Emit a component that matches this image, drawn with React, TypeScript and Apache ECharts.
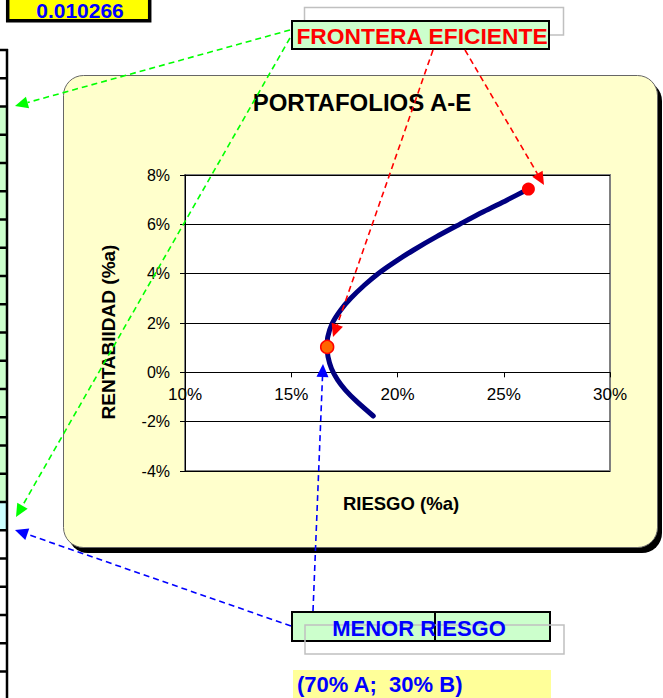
import React, { useEffect, useRef } from "react";
import * as echarts from "echarts";

// ---- data ----
const riskPct = [18.86, 18.09, 17.55, 17.18, 16.89, 16.73, 16.69, 16.72, 16.93, 17.33, 17.8, 18.45, 19.1, 19.88, 20.76, 21.84, 22.94, 24.04, 25.14, 26.16];
const returnPct = [-1.77, -1.19, -0.72, -0.31, 0.16, 0.63, 1.03, 1.44, 1.99, 2.53, 3.0, 3.54, 4.01, 4.48, 4.96, 5.5, 6.01, 6.51, 6.98, 7.43];
const minRiskPoint = [16.69, 1.03];
const maxReturnPoint = [26.16, 7.43];
const xRange = [10, 30, 5];
const yRange = [-4, 8, 2];
const minRiskValue = "0.010266";
const chartTitle = "PORTAFOLIOS A-E";
const xName = "RIESGO (%a)";
const yName = "RENTABIIDAD (%a)";
const frontierLabel = "FRONTERA EFICIENTE";
const minRiskLabel = "MENOR RIESGO";
const mixLabel = "(70% A;\u00a0 30% B)";

const FONT = '"Liberation Sans", Arial, Helvetica, sans-serif';

const GRID = { left: 185, top: 175, width: 425, height: 296 };

function arrow(x1: number, y1: number, x2: number, y2: number, color: string) {
  const dx = x2 - x1;
  const dy = y2 - y1;
  const len = Math.sqrt(dx * dx + dy * dy);
  const ux = dx / len;
  const uy = dy / len;
  const L = 13;
  const W = 6;
  const bx = x2 - ux * L;
  const by = y2 - uy * L;
  return [
    {
      type: "line",
      z: 100,
      shape: { x1, y1, x2: bx, y2: by },
      style: { stroke: color, lineWidth: 1.6, lineDash: [6, 4] },
    },
    {
      type: "polygon",
      z: 100,
      shape: {
        points: [
          [x2, y2],
          [bx - uy * W, by + ux * W],
          [bx + uy * W, by - ux * W],
        ],
      },
      style: { fill: color },
    },
  ];
}

function leftColumn() {
  const els: any[] = [];
  const top = 50;
  const h = 28.25;
  for (let k = 0; k < 24; k++) {
    const y = top + k * h;
    if (k >= 2 && k <= 16) {
      els.push({
        type: "rect",
        z: 1,
        shape: { x: 0, y, width: 7, height: h },
        style: { fill: k === 16 ? "#CCFFFF" : "#CCFFCC" },
      });
    }
  }
  for (let k = 0; k < 24; k++) {
    const y = top + k * h;
    els.push({
      type: "line",
      z: 2,
      shape: { x1: 0, y1: y, x2: 8, y2: y },
      style: { stroke: "#000", lineWidth: 2.5 },
    });
  }
  els.push({
    type: "line",
    z: 2,
    shape: { x1: 7, y1: top - 1, x2: 7, y2: 700 },
    style: { stroke: "#000", lineWidth: 2.5 },
  });
  return els;
}

function text(x: number, y: number, t: string, fill: string, size: number, bold = true, align = "center", rotation = 0) {
  return {
    type: "text",
    z: 50,
    x,
    y,
    rotation,
    style: {
      text: t,
      fill,
      font: `${bold ? "bold " : ""}${size}px ${FONT}`,
      textAlign: align,
      textVerticalAlign: "middle",
    },
  };
}

export default function App() {
  const ref = useRef<HTMLDivElement>(null);

  useEffect(() => {
    if (!ref.current) return;
    const chart = echarts.init(ref.current, undefined, { renderer: "svg" });
    const curve = riskPct.map((r, i) => [r, returnPct[i]]);
    // x axis sits on the 0% line: shift it up from the grid bottom
    const zeroOffset = -GRID.height * (0 - yRange[0]) / (yRange[1] - yRange[0]);

    const graphics: any[] = [
      // chart area box with shadow
      {
        type: "rect",
        z: -20,
        shape: { x: 68, y: 81, width: 594, height: 472, r: 20 },
        style: { fill: "#000" },
      },
      {
        type: "rect",
        z: -19,
        shape: { x: 63.5, y: 75.5, width: 594, height: 472, r: 20 },
        style: { fill: "#FFFFCC", stroke: "#666", lineWidth: 1 },
      },
      ...leftColumn(),
      // top-left value box
      {
        type: "rect",
        z: 10,
        shape: { x: 7.7, y: -5, width: 142, height: 25.7 },
        style: { fill: "#FFFF00", stroke: "#000", lineWidth: 3.5 },
      },
      text(80, 10.5, minRiskValue, "#0000FF", 21),
      // chart texts
      text(362, 102, chartTitle, "#000", 24),
      text(401, 503, xName, "#000", 18.5),
      text(108, 332, yName, "#000", 19, true, "center", Math.PI / 2),
      // frontera label
      {
        type: "rect",
        z: 10,
        shape: { x: 304.5, y: 7.5, width: 259, height: 27.5 },
        style: { fill: "none", stroke: "#C0C0C0", lineWidth: 1.5 },
      },
      {
        type: "rect",
        z: 11,
        shape: { x: 292, y: 21, width: 257, height: 28 },
        style: { fill: "#CCFFCC", stroke: "#000", lineWidth: 2 },
      },
      text(422, 36, frontierLabel, "#FF0000", 22.8),
      // menor riesgo label
      {
        type: "rect",
        z: 10,
        shape: { x: 292, y: 612, width: 258, height: 29 },
        style: { fill: "#CCFFCC", stroke: "#000", lineWidth: 2 },
      },
      {
        type: "line",
        z: 11,
        shape: { x1: 435, y1: 612, x2: 435, y2: 641 },
        style: { stroke: "#000", lineWidth: 2 },
      },
      {
        type: "rect",
        z: 12,
        shape: { x: 305, y: 625, width: 259, height: 29 },
        style: { fill: "none", stroke: "#C0C0C0", lineWidth: 1.5 },
      },
      text(419, 628, minRiskLabel, "#0000FF", 22),
      {
        type: "rect",
        z: 10,
        shape: { x: 293, y: 670, width: 258, height: 30 },
        style: { fill: "#FFFF99" },
      },
      text(297, 684, mixLabel, "#0000FF", 22, true, "left"),
      // arrows
      ...arrow(290, 30, 15, 106, "#00FF00"),
      ...arrow(290, 38, 16, 517, "#00FF00"),
      ...arrow(433, 50, 333, 337, "#FF0000"),
      ...arrow(465, 50, 544, 185, "#FF0000"),
      ...arrow(313, 611, 323, 364, "#0000FF"),
      ...arrow(291, 626, 15, 530, "#0000FF"),
    ];

    chart.setOption({
      animation: false,
      grid: {
        ...GRID,
        show: true,
        backgroundColor: "#FFFFFF",
        borderColor: "#808080",
        borderWidth: 2,
      },
      xAxis: {
        type: "value",
        position: "bottom",
        offset: zeroOffset,
        min: xRange[0],
        max: xRange[1],
        interval: xRange[2],
        axisLine: { show: true, onZero: false, lineStyle: { color: "#000", width: 1 } },
        axisTick: { show: true, length: 5, inside: false, lineStyle: { color: "#000" } },
        axisLabel: {
          formatter: "{value}%",
          color: "#000",
          fontSize: 17,
          fontFamily: FONT,
          margin: 14,
          showMinLabel: true,
          showMaxLabel: true,
        },
        splitLine: { show: false },
      },
      yAxis: {
        type: "value",
        min: yRange[0],
        max: yRange[1],
        interval: yRange[2],
        axisLine: { show: true, onZero: false, lineStyle: { color: "#000", width: 1 } },
        axisTick: { show: true, length: 5, inside: false, lineStyle: { color: "#000" } },
        axisLabel: {
          formatter: "{value}%",
          color: "#000",
          fontSize: 16,
          fontFamily: FONT,
          margin: 15,
        },
        splitLine: { show: true, lineStyle: { color: "#000", width: 1 } },
      },
      series: [
        {
          type: "line",
          data: curve,
          smooth: 0.3,
          symbol: "none",
          lineStyle: { color: "#000080", width: 5, cap: "round", join: "round" },
          z: 3,
        },
        {
          type: "scatter",
          data: [maxReturnPoint],
          symbolSize: 13,
          itemStyle: { color: "#FF0000", opacity: 1 },
          z: 4,
        },
        {
          type: "scatter",
          data: [minRiskPoint],
          symbolSize: 13,
          itemStyle: { color: "#FF6600", borderColor: "#FF0000", borderWidth: 1.5, opacity: 1 },
          z: 4,
        },
      ],
      graphic: { elements: graphics },
    });

    return () => chart.dispose();
  }, []);

  return (
    <div
      ref={ref}
      style={{ position: "absolute", left: 0, top: 0, width: 663, height: 698 }}
    />
  );
}
